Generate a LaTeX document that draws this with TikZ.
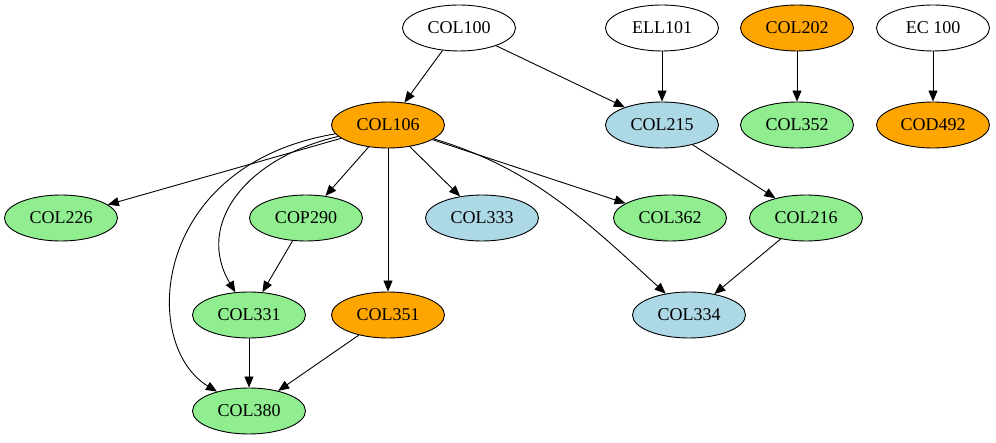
\documentclass[tikz,border=0pt]{standalone}
\usepackage{fontspec}
\setmainfont{Liberation Serif}
\usetikzlibrary{shapes.geometric,arrows.meta}
\definecolor{corange}{HTML}{FFA500}
\definecolor{cgreen}{HTML}{90EE90}
\definecolor{cblue}{HTML}{ADD8E6}
\begin{document}
\begin{tikzpicture}[x=1pt,y=-1pt,
  course/.style={ellipse,draw=black,line width=0.9pt,minimum width=113pt,minimum height=46pt,inner sep=0pt,font=\fontsize{18}{20}\selectfont},
  core/.style={course,fill=corange},
  elect/.style={course,fill=cgreen},
  theory/.style={course,fill=cblue},
  plain/.style={course,fill=white},
  dep/.style={-{Triangle[length=11pt,width=9pt]},line width=0.9pt}]
\useasboundingbox (0,0) rectangle (996,443);
% top row
\node[plain]  (c100) at (459,28)  {COL100};
\node[plain]  (e101) at (662,28)  {ELL101};
\node[core]   (c202) at (797,28)  {COL202};
\node[plain]  (ec100) at (933,28) {EC 100};
% second row
\node[core]   (c106) at (388,125) {COL106};
\node[theory] (c215) at (662,125) {COL215};
\node[elect]  (c352) at (797,125) {COL352};
\node[core]   (d492) at (933,125) {COD492};
% third row
\node[elect]  (c226) at (61,218)  {COL226};
\node[elect]  (p290) at (306,218) {COP290};
\node[theory] (c333) at (482,218) {COL333};
\node[elect]  (c362) at (670,218) {COL362};
\node[elect]  (c216) at (806,218) {COL216};
% fourth row
\node[elect]  (c331) at (249,315) {COL331};
\node[core]   (c351) at (388,315) {COL351};
\node[theory] (c334) at (689,315) {COL334};
% bottom
\node[elect]  (c380) at (249,411) {COL380};
% prerequisites
\draw[dep] (c100) -- (c106);
\draw[dep] (c100) -- (c215);
\draw[dep] (e101) -- (c215);
\draw[dep] (c202) -- (c352);
\draw[dep] (ec100) -- (d492);
\draw[dep] (c106) -- (c226);
\draw[dep] (c106) -- (p290);
\draw[dep] (c106) -- (c333);
\draw[dep] (c106) -- (c362);
\draw[dep] (c106) -- (c351);
\draw[dep] (c106) .. controls (245,158) and (195,225) .. (c331);
\draw[dep] (c106) .. controls (150,165) and (140,345) .. (c380);
\draw[dep] (c106) .. controls (530,168) and (580,215) .. (c334);
\draw[dep] (c215) -- (c216);
\draw[dep] (p290) -- (c331);
\draw[dep] (c216) -- (c334);
\draw[dep] (c331) -- (c380);
\draw[dep] (c351) -- (c380);
\end{tikzpicture}
\end{document}
